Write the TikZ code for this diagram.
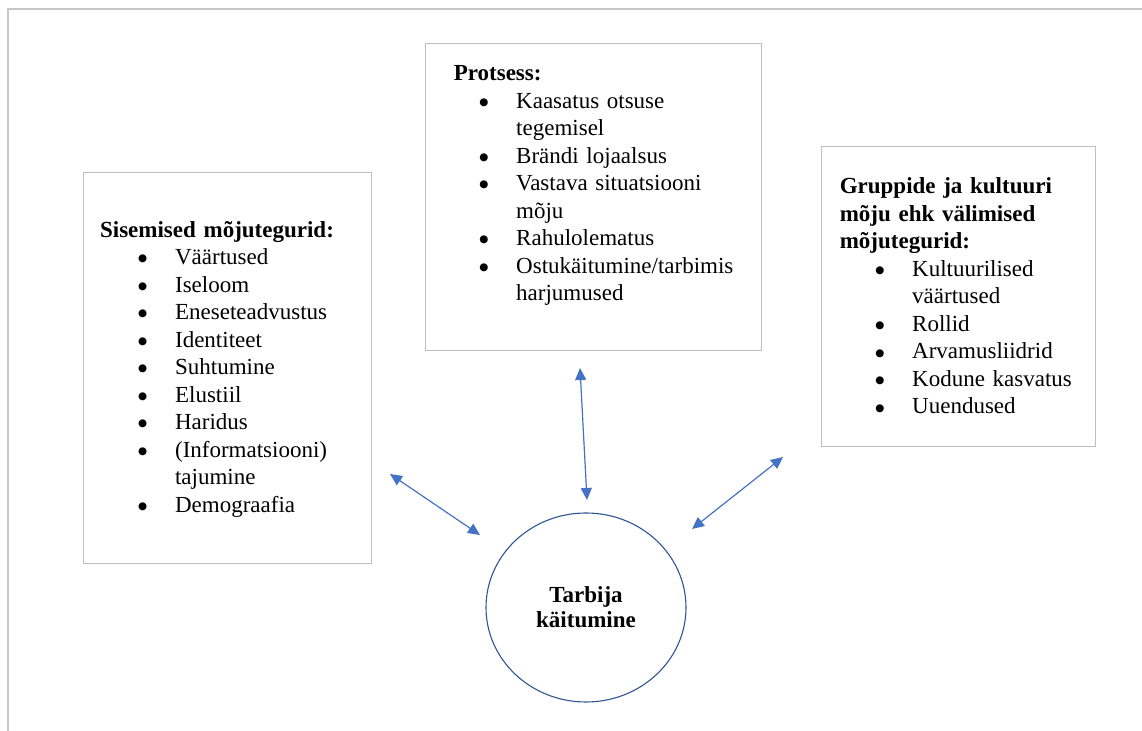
\documentclass[tikz,border=0pt]{standalone}
\usepackage{fontspec}
\setmainfont{Liberation Serif}
\newfontfamily\dotfont{DejaVu Sans}
\usepackage{xcolor}
\usepackage{tikz}
\usetikzlibrary{arrows.meta, positioning, shapes.geometric}

\definecolor{framegray}{RGB}{200,200,200}
\definecolor{boxgray}{RGB}{190,190,190}
\definecolor{linkblue}{RGB}{68,114,196}
\definecolor{ringblue}{RGB}{47,84,150}

\setlength{\parindent}{0pt}
\newlength{\bulx}
\newlength{\txtx}
\newcommand{\bigbul}{\raisebox{1.3pt}{\dotfont\fontsize{5.2}{6}\selectfont ●}}
\newcommand{\itm}[1]{\par\noindent\hangindent=\txtx\hangafter=1%
  \makebox[\txtx][l]{\hspace*{\bulx}\makebox[0pt]{\bigbul}}#1}

\begin{document}
\begin{tikzpicture}[
  x=0.5pt, y=-0.5pt,
  box/.style={draw=boxgray, line width=0.7pt, anchor=north west, inner sep=0pt},
  listtext/.style={inner sep=0pt, text width=#1, font=\fontsize{11.5}{13.75}\selectfont},
  ring/.style={ellipse, draw=ringblue, line width=0.55pt, inner sep=0pt, align=center,
    font=\bfseries\fontsize{11.5}{12.5}\selectfont},
  link/.style={{Triangle[length=6pt,width=5.5pt]}-{Triangle[length=6pt,width=5.5pt]}, linkblue, line width=0.6pt},
]
  \useasboundingbox (0,0) rectangle (1142,731);
  \draw[framegray, line width=1pt] (7.5,731) -- (7.5,9.5) -- (1142,9.5);

  % boxes
  \node[box, minimum width=144pt, minimum height=195.5pt] (lbox) at (83,172) {};
  \node[box, minimum width=168pt, minimum height=153.7pt] (mbox) at (425,42.7) {};
  \node[box, minimum width=137pt, minimum height=150pt] (rbox) at (821,146) {};

  \node[listtext=125pt, below right=24.3pt and 8.35pt of lbox.north west] (ltext) {%
    \setlength{\bulx}{21.3pt}\setlength{\txtx}{37.5pt}%
    {\bfseries Sisemised mõjutegurid:}
    \itm{Väärtused}
    \itm{Iseloom}
    \itm{Eneseteadvustus}
    \itm{Identiteet}
    \itm{Suhtumine}
    \itm{Elustiil}
    \itm{Haridus}
    \itm{(Informatsiooni)\newline tajumine}
    \itm{Demograafia}\par};

  \node[listtext=148pt, below right=11.2pt and 14.2pt of mbox.north west] (mtext) {%
    \setlength{\bulx}{15pt}\setlength{\txtx}{31.2pt}%
    {\bfseries Protsess:}
    \itm{Kaasatus otsuse\newline tegemisel}
    \itm{Brändi lojaalsus}
    \itm{Vastava situatsiooni\newline mõju}
    \itm{Rahulolematus}
    \itm{Ostukäitumine/tarbimis\newline harjumused}\par};

  \node[listtext=122pt, below right=15.7pt and 9.2pt of rbox.north west] (rtext) {%
    \setlength{\bulx}{20pt}\setlength{\txtx}{36.2pt}%
    {\bfseries Gruppide ja kultuuri\newline mõju ehk välimised\newline mõjutegurid:}
    \itm{Kultuurilised\newline väärtused}
    \itm{Rollid}
    \itm{Arvamusliidrid}
    \itm{Kodune kasvatus}
    \itm{Uuendused}\par};

  % centre
  \node[ring, minimum width=100pt, minimum height=94.5pt] (tarbija) at (586,607.5) {Tarbija\\käitumine};

  % arrows
  \coordinate (lA) at (390,474);
  \coordinate (lB) at (480,535);
  \coordinate (mA) at (580,368);
  \coordinate (mB) at (587,500);
  \coordinate (rA) at (783,457);
  \coordinate (rB) at (692,529);
  \draw[link] (lA) -- (lB);
  \draw[link] (mA) -- (mB);
  \draw[link] (rA) -- (rB);
\end{tikzpicture}
\end{document}
